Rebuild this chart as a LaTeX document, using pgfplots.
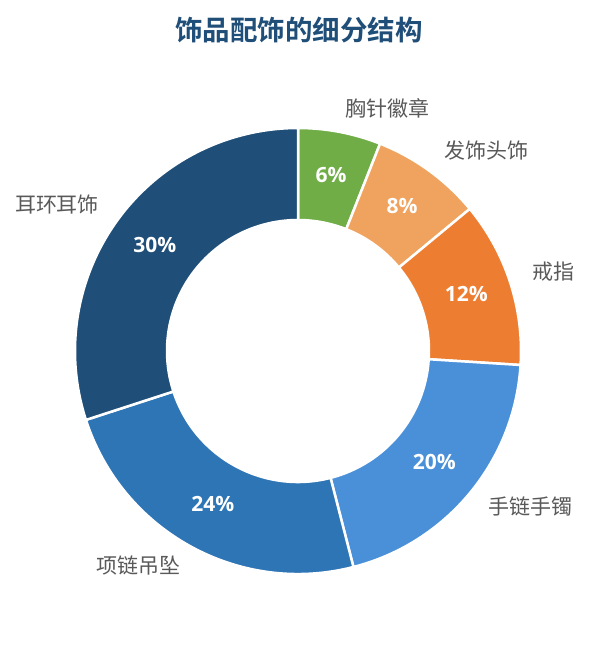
\documentclass[border=0pt]{standalone}
\usepackage{pgfplots}
\pgfplotsset{compat=1.18}
\usepackage{fontspec}
\setmainfont{Noto Sans CJK SC}[BoldFont={Noto Sans CJK SC Bold}]
\newfontfamily\numfont{Open Sans}

\definecolor{cGreen}{HTML}{70AD47}
\definecolor{cLOrange}{HTML}{F0A35E}
\definecolor{cOrange}{HTML}{ED7D31}
\definecolor{cLBlue}{HTML}{4A90D9}
\definecolor{cBlue}{HTML}{2E75B6}
\definecolor{cDBlue}{HTML}{1F4E79}
\definecolor{cText}{HTML}{595959}

% centre and radii of the ring, in pixels of the picture
\def\cx{298}\def\cy{351}\def\Ro{223}\def\Ri{131}\def\Rm{177}

\tikzset{pct/.style={font=\numfont\bfseries\fontsize{21}{25}\selectfont, text=white, yshift=2pt},
  lbl/.style={font=\fontsize{21}{25}\selectfont, text=cText}}

% #1 running total before the slice, #2 share in percent, #3 colour
\newcommand\slice[3]{%
  \pgfmathsetmacro\aA{90-3.6*#1}%
  \pgfmathsetmacro\aB{90-3.6*(#1+#2)}%
  \pgfmathsetmacro\aM{(\aA+\aB)/2}%
  \edef\tmp{%
    \noexpand\fill[#3, draw=white, line width=2.5pt, line join=miter]
      (axis cs:{\cx+\Ro*cos(\aA)},{\cy-\Ro*sin(\aA)})
      arc[start angle=\aA, end angle=\aB, radius=\Ro pt]
      -- (axis cs:{\cx+\Ri*cos(\aB)},{\cy-\Ri*sin(\aB)})
      arc[start angle=\aB, end angle=\aA, radius=\Ri pt] -- cycle;
    \noexpand\node[pct] at (axis cs:{\cx+\Rm*cos(\aM)},{\cy-\Rm*sin(\aM)}) {#2\noexpand\%};
  }\tmp}

\begin{document}
\begin{tikzpicture}
\begin{axis}[
    x=1pt, y=1pt, y dir=reverse,
    xmin=0, xmax=592, ymin=0, ymax=645,
    scale only axis, hide axis, clip=false]
\path (axis cs:0,0) rectangle (axis cs:592,645);

\slice{0}{6}{cGreen}
\slice{6}{8}{cLOrange}
\slice{14}{12}{cOrange}
\slice{26}{20}{cLBlue}
\slice{46}{24}{cBlue}
\slice{70}{30}{cDBlue}

\node[font=\bfseries\fontsize{27.5}{32}\selectfont, text=cDBlue] at (axis cs:299,30) {饰品配饰的细分结构};

\node[lbl] at (axis cs:387,108) {胸针徽章};
\node[lbl] at (axis cs:486,151) {发饰头饰};
\node[lbl] at (axis cs:553,272) {戒指};
\node[lbl] at (axis cs:530,506) {手链手镯};
\node[lbl] at (axis cs:138,565) {项链吊坠};
\node[lbl] at (axis cs:57,205) {耳环耳饰};
\end{axis}
\end{tikzpicture}
\end{document}
